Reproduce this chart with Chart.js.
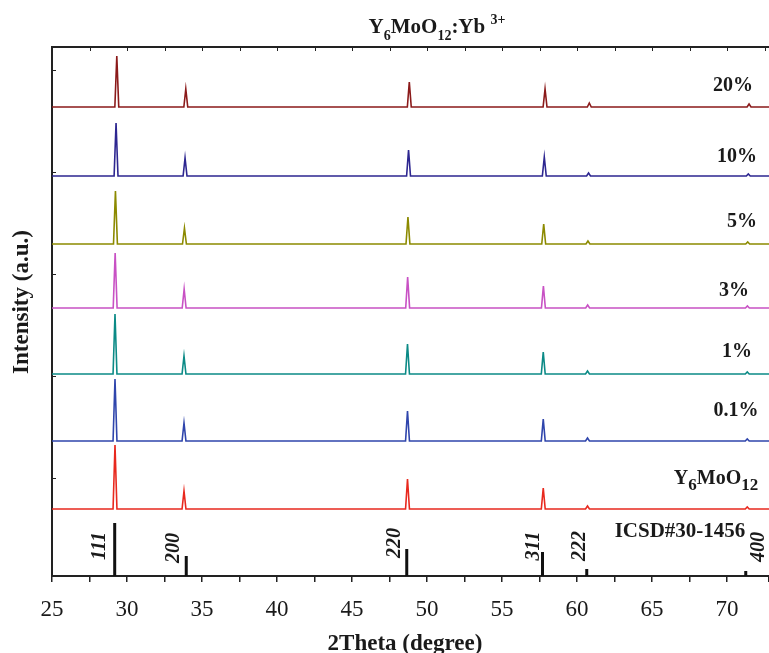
<!DOCTYPE html>
<html>
<head>
<meta charset="utf-8">
<script src="https://cdn.jsdelivr.net/npm/chart.js@4.4.1/dist/chart.umd.min.js"></script>
<style>
  html, body { margin: 0; padding: 0; background: #fff; }
  #wrap { width: 769px; height: 653px; }
</style>
</head>
<body>
<div id="wrap"><canvas id="xrdChart"></canvas></div>
<script>
/* ===== DATA ===== */

// samples, bottom to top
const sampleNames = ['Y6MoO12', '0.1%', '1%', '3%', '5%', '10%', '20%'];
// vertical stacking offset of each pattern (a.u.)
const sampleOffsets = [67, 135, 202, 268, 332, 400, 469];
// small shift of the reflections for each sample (degree)
const sampleShift = [0, 0, 0, 0.01, 0.03, 0.07, 0.12];

// reflection positions of the measured patterns (2theta, degree)
const peakTheta = [29.2, 33.8, 48.7, 57.75, 60.7, 71.35];

// peak heights (a.u.) for each sample, same order as peakTheta
const peaksY6MoO12 = [64, 18, 30, 21, 3, 2];
const peaks01 = [62, 18, 30, 22, 3, 2];
const peaks1 = [60, 18, 30, 22, 3, 2];
const peaks3 = [55, 19, 31, 22, 3, 2];
const peaks5 = [53, 16, 27, 20, 3, 2];
const peaks10 = [53, 18, 26, 19, 3, 2];
const peaks20 = [51, 18, 25, 18, 4, 3];

// ICSD#30-1456 reference sticks
const icsdTheta = [29.18, 33.95, 48.65, 57.7, 60.65, 71.25];
const icsdIntensity = [53, 20, 27, 24, 7, 5];
const icsdHkl = ['111', '200', '220', '311', '222', '400'];

// axis
const xMin = 25, xMax = 72.8;
const yTickValues = [98, 200, 302, 404, 506];

/* ===== HELPERS ===== */

const SERIF = '"Liberation Serif", "Times New Roman", serif';
const colors = ['#e8291e', '#2f45ac', '#0b8a86', '#c851c4', '#8c8a00', '#2d2690', '#8b1a1a'];
const allPeaks = [peaksY6MoO12, peaks01, peaks1, peaks3, peaks5, peaks10, peaks20];

function buildPattern(heights, offset, shift) {
  const pts = [{ x: xMin, y: offset }];
  peakTheta.forEach((t, i) => {
    const p = t + shift;
    pts.push({ x: p - 0.13, y: offset });
    pts.push({ x: p, y: offset + heights[i] });
    pts.push({ x: p + 0.13, y: offset });
  });
  pts.push({ x: xMax, y: offset });
  return pts;
}

function buildSticks() {
  const pts = [];
  icsdTheta.forEach((t, i) => {
    pts.push({ x: t, y: 0 });
    pts.push({ x: t, y: icsdIntensity[i] });
    pts.push({ x: t, y: null });
  });
  return pts;
}

// text with sub/superscripts: [text, 0 normal | 1 sub | 2 sup]
function drawRich(ctx, segs, x, y, size, subScale, subDrop, align) {
  const fontFor = k => `bold ${k ? Math.round(size * subScale) : size}px ${SERIF}`;
  let total = 0;
  segs.forEach(([t, k]) => { ctx.font = fontFor(k); total += ctx.measureText(t).width; });
  let cx = align === 'center' ? x - total / 2 : align === 'right' ? x - total : x;
  ctx.textAlign = 'left';
  ctx.textBaseline = 'alphabetic';
  segs.forEach(([t, k]) => {
    ctx.font = fontFor(k);
    const dy = k === 1 ? subDrop : k === 2 ? -size * 0.45 : 0;
    ctx.fillText(t, cx, y + dy);
    cx += ctx.measureText(t).width;
  });
}

// label places (pixel centre) for the sample names
const namePos = [
  null,
  [736, 411], [737, 352], [734, 291], [742, 222], [737, 157], [733, 86]
];
const hklPos = [[100, 546], [174, 548], [395, 543], [534, 546], [580, 546], [759, 547]];

const decorPlugin = {
  id: 'decor',
  afterDraw(chart) {
    const { ctx, chartArea: a, scales: { x, y } } = chart;
    ctx.save();
    // top frame + inward ticks
    ctx.strokeStyle = '#222';
    ctx.lineWidth = 2;
    ctx.beginPath();
    ctx.moveTo(a.left - 1, a.top);
    ctx.lineTo(a.right, a.top);
    ctx.stroke();
    ctx.lineWidth = 1;
    ctx.beginPath();
    for (let v = xMin; v <= 72.5; v += 2.5) {
      const px = Math.round(x.getPixelForValue(v)) + 0.5;
      ctx.moveTo(px, a.top);
      ctx.lineTo(px, a.top + 4);
    }
    yTickValues.forEach(v => {
      const py = Math.round(y.getPixelForValue(v)) + 0.5;
      ctx.moveTo(a.left, py);
      ctx.lineTo(a.left + 4, py);
    });
    ctx.stroke();

    ctx.fillStyle = '#1a1a1a';
    // title
    drawRich(ctx, [['Y', 0], ['6', 1], ['MoO', 0], ['12', 1], [':Yb ', 0], ['3+', 2]],
      437, 33, 21, 0.68, 7, 'center');

    // sample names
    ctx.font = `bold 20px ${SERIF}`;
    ctx.textAlign = 'center';
    ctx.textBaseline = 'middle';
    sampleNames.forEach((n, i) => {
      if (!namePos[i]) return;
      ctx.fillText(n, namePos[i][0], namePos[i][1]);
    });
    drawRich(ctx, [['Y', 0], ['6', 1], ['MoO', 0], ['12', 1]], 716, 484, 20, 0.85, 6, 'center');

    // ICSD label
    ctx.font = `bold 21px ${SERIF}`;
    ctx.textAlign = 'center';
    ctx.textBaseline = 'middle';
    ctx.fillText('ICSD#30-1456', 680, 532);

    // hkl labels
    ctx.font = `italic bold 20px ${SERIF}`;
    icsdHkl.forEach((h, i) => {
      ctx.save();
      ctx.translate(hklPos[i][0], hklPos[i][1]);
      ctx.rotate(-Math.PI / 2);
      ctx.fillText(h, 0, 0);
      ctx.restore();
    });

    // axis titles
    ctx.font = `bold 23px ${SERIF}`;
    ctx.textAlign = 'center';
    ctx.textBaseline = 'alphabetic';
    ctx.fillText('2Theta (degree)', 405, 650);
    ctx.save();
    ctx.translate(28, 302);
    ctx.rotate(-Math.PI / 2);
    ctx.fillText('Intensity (a.u.)', 0, 0);
    ctx.restore();

    ctx.restore();
  }
};

/* ===== CHART ===== */

(function() {
  const el = document.getElementById('xrdChart');

  const datasets = sampleNames.map((n, i) => ({
    label: n,
    data: buildPattern(allPeaks[i], sampleOffsets[i], sampleShift[i]),
    borderColor: colors[i],
    borderWidth: 1.6,
    pointRadius: 0,
    tension: 0,
  }));
  datasets.push({
    label: 'ICSD#30-1456',
    data: buildSticks(),
    borderColor: '#111',
    borderWidth: 3,
    borderCapStyle: 'butt',
    pointRadius: 0,
    spanGaps: false,
  });

  new Chart(el, {
    type: 'line',
    data: { datasets },
    options: {
      responsive: true,
      maintainAspectRatio: false,
      animation: false,
      devicePixelRatio: 1,
      layout: { padding: { top: 47, left: 52, right: 0, bottom: 0 } },
      plugins: { legend: { display: false }, tooltip: { enabled: false } },
      scales: {
        x: {
          type: 'linear',
          min: xMin,
          max: xMax,
          afterFit(s) { s.height = 77; s.paddingLeft = 0; s.paddingRight = 0; },
          border: { color: '#222', width: 2 },
          grid: { drawOnChartArea: false, tickLength: 6, color: '#222', lineWidth: 1.5 },
          ticks: {
            stepSize: 2.5,
            autoSkip: false,
            maxRotation: 0,
            padding: 14,
            color: '#1a1a1a',
            font: { family: SERIF, size: 23 },
            callback(v) { return v % 5 === 0 ? v : ''; }
          }
        },
        y: {
          type: 'linear',
          min: 0,
          max: 529,
          afterFit(s) { s.width = 0; s.paddingTop = 0; s.paddingBottom = 0; },
          border: { color: '#222', width: 2 },
          grid: { drawOnChartArea: false, drawTicks: false },
          ticks: { display: false }
        }
      }
    },
    plugins: [decorPlugin]
  });
})();
</script>
</body>
</html>
